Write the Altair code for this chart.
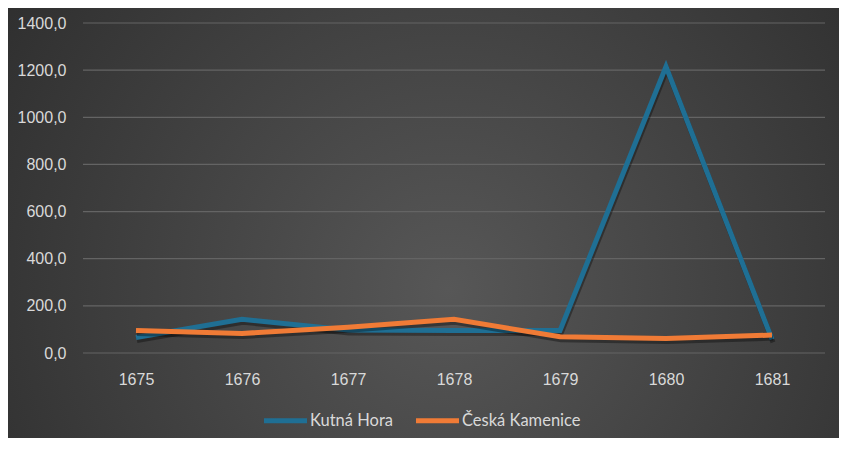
import altair as alt
import pandas as pd

years = ["1675", "1676", "1677", "1678", "1679", "1680", "1681"]
kutna_hora = [66, 143, 98, 95, 95, 1215, 58]
ceska_kamenice = [95, 83, 109, 143, 69, 61, 76]
series_names = ["Kutná Hora", "Česká Kamenice"]
series_colors = ["#1f6f94", "#f07b36"]
y_ticks = [0, 200, 400, 600, 800, 1000, 1200, 1400]

rows = []
for y, v in zip(years, kutna_hora):
    rows.append({"year": y, "series": series_names[0], "value": v})
for y, v in zip(years, ceska_kamenice):
    rows.append({"year": y, "series": series_names[1], "value": v})
df = pd.DataFrame(rows)
grid_df = pd.DataFrame({"value": y_ticks})

W, H = 742, 330
PL, PT, PR, PB = 75, 15, 14, 85

bg = alt.Chart(pd.DataFrame({"a": [0]})).mark_rect(
    color=alt.RadialGradient(
        gradient="radial",
        stops=[alt.GradientStop(color="#575757", offset=0),
               alt.GradientStop(color="#282828", offset=1)],
        x1=0.53, y1=0.58, x2=0.53, y2=0.58, r1=0, r2=0.75,
    ),
    clip=False,
).encode(
    x=alt.value(-PL), x2=alt.value(W + PR),
    y=alt.value(-PT), y2=alt.value(H + PB),
)

color = alt.Color(
    "series:N",
    scale=alt.Scale(domain=series_names, range=series_colors),
    legend=alt.Legend(
        title=None, orient="none", legendX=178, legendY=373,
        direction="horizontal", symbolType="stroke", symbolSize=1850,
        symbolStrokeWidth=5, labelFont="Lato", labelFontSize=16.5,
        labelColor="#d9d9d9", columnPadding=11, labelOffset=0,
    ),
)

x = alt.X(
    "year:N", sort=years, scale=alt.Scale(padding=0.5),
    axis=alt.Axis(title=None, domain=False, ticks=False, grid=False,
                  labelAngle=0, labelPadding=18, labelFont="Liberation Sans",
                  labelFontSize=16, labelColor="#d9d9d9", zindex=1),
)
y_scale = alt.Scale(domain=[0, 1400], nice=False)
y = alt.Y(
    "value:Q", scale=y_scale,
    axis=alt.Axis(title=None, domain=False, ticks=False, grid=False,
                  values=y_ticks,
                  labelExpr="replace(format(datum.value, '.1f'), '.', ',')",
                  labelPadding=17, labelFont="Liberation Sans",
                  labelFontSize=16, labelColor="#d9d9d9", zindex=1),
)

grid = alt.Chart(grid_df).mark_rule(color="#646464", strokeWidth=1.2).encode(
    y=y
)

layers = [bg, grid]
for name in series_names:
    base = alt.Chart(df).transform_filter(alt.datum.series == name)
    shadow = base.mark_line(strokeWidth=5, color="black", opacity=0.35,
                            yOffset=3, xOffset=1).encode(x=x, y=y)
    line = base.mark_line(strokeWidth=5, strokeJoin="miter").encode(
        x=x, y=y, color=color)
    layers += [shadow, line]

chart = alt.layer(*layers).properties(
    width=W, height=H,
    autosize=alt.AutoSizeParams(type="none"),
    padding={"left": PL, "top": PT, "right": PR, "bottom": PB},
    background="#282828",
).configure_view(stroke=None)

chart.save("out.html", embed_options={"renderer": "svg", "actions": False})
